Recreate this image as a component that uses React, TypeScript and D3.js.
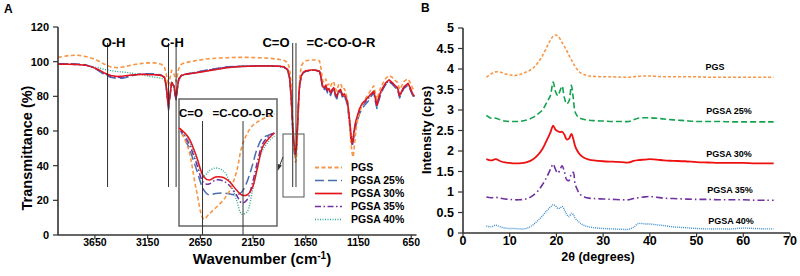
import React from 'react';
import * as d3 from 'd3';

// ---------- Panel A : FTIR ----------
const wavenumbers = [
  4000, 3900, 3820, 3740, 3680, 3620, 3560, 3500, 3440, 3380,
  3320, 3260, 3200, 3140, 3080, 3020, 2990, 2975, 2962, 2952,
  2940, 2922, 2900, 2888, 2880, 2870, 2855, 2830, 2790, 2700,
  2600, 2500, 2400, 2300, 2200, 2100, 2000, 1900, 1858, 1822,
  1803, 1788, 1773, 1758, 1748, 1738, 1728, 1718, 1708, 1693,
  1673, 1648, 1600, 1560, 1520, 1505, 1490, 1475, 1460, 1445,
  1430, 1415, 1400, 1385, 1370, 1355, 1340, 1320, 1300, 1285,
  1270, 1255, 1242, 1230, 1220, 1210, 1200, 1188, 1175, 1160,
  1140, 1115, 1090, 1060, 1030, 1005, 990, 975, 960, 940,
  915, 890, 860, 830, 800, 780, 760, 740, 720, 700,
  680, 660, 640, 620,
];

const ftirPGS = [
  102.5, 103.5, 103.8, 103, 102, 100.5, 98.5, 97, 96.5, 97,
  97.8, 98.5, 99, 99.3, 99.3, 98.5, 97, 93, 89, 86,
  90, 95, 93, 90, 88.5, 91.5, 96, 98.5, 99.5, 100.5,
  101.5, 102, 102.3, 102.5, 102.5, 102.3, 102, 101.3, 100.8, 99.5,
  96, 86, 65, 50, 42, 44, 58, 76, 90, 97.5,
  99.5, 100.5, 101, 101, 100.5, 96, 89, 88, 90, 86.5,
  87, 85.5, 88, 88.5, 84.5, 83, 86.5, 87.5, 84, 84.5,
  82, 78, 70, 60, 52, 47, 45, 52, 60, 66,
  71, 75, 78, 81, 84, 86, 82, 78, 81.5, 85,
  88, 90.5, 92, 91, 89, 88, 84, 86, 88.5, 89.5,
  90, 88, 85, 83,
];

const ftirPGSA25 = [
  98.8, 98.8, 98.6, 98.2, 97, 95, 92.5, 91, 90.3, 90.5,
  91.5, 92.5, 93, 93, 93, 92.3, 91, 86, 78, 72,
  79, 88, 85.5, 80, 78, 83.5, 90, 92, 92.8, 93.8,
  95, 96, 97, 97.3, 97.5, 97.7, 97.7, 97.4, 97, 95,
  90, 78, 58, 47, 45, 50, 62, 76, 86, 91.5,
  93.5, 94.5, 95, 95, 94.3, 90, 85, 83.5, 85, 82,
  83, 80.5, 83, 84, 80, 78.5, 82, 83, 79, 80,
  78, 75, 68, 61, 55, 51, 54, 60, 63, 66,
  70, 73, 75, 77, 80, 82, 77, 73, 77, 81,
  84.5, 87, 88.5, 87, 85, 84, 79, 82, 84.5, 85.5,
  86.5, 84, 81, 79,
];

const ftirPGSA30 = [
  98.5, 98.5, 98.3, 98, 97, 95.5, 93.5, 92, 91.5, 91.8,
  92.2, 92.5, 92.8, 92.5, 92.5, 92, 91, 87, 80, 74,
  80, 88, 86, 81, 79, 84, 90, 92, 92.8, 93.5,
  94.5, 95.5, 96.5, 97, 97.3, 97.5, 97.5, 97.3, 97, 95.5,
  91, 80, 62, 50, 47, 52, 64, 78, 87, 92,
  94, 94.8, 95.2, 95.2, 94.5, 91, 86, 85, 86.5, 83.5,
  84.5, 82, 84, 85, 81.5, 80, 83, 84, 80.5, 81.5,
  79.5, 77, 71, 64, 57, 53, 56, 62, 66, 69,
  73, 76, 77.5, 79.5, 81.5, 83, 79, 75, 79, 82.5,
  85.5, 88, 89.5, 88, 86, 85, 80.5, 83, 85.5, 86.5,
  87.5, 85, 82, 80,
];

const ftirPGSA35 = [
  98.6, 98.6, 98.4, 98, 97, 95.3, 93, 91.5, 91, 91.2,
  92, 92.5, 92.8, 92.8, 92.6, 92, 90.8, 86.5, 79, 73,
  79.5, 88, 85.8, 80.5, 78.5, 83.8, 90, 92, 92.8, 93.7,
  94.8, 95.8, 96.8, 97.2, 97.4, 97.6, 97.6, 97.3, 96.9, 95.2,
  90.5, 79, 60, 48.5, 46, 51, 63, 77, 86.5, 91.8,
  93.8, 94.6, 95.1, 95.1, 94.4, 90.5, 85.5, 84.5, 86, 83,
  84, 81.5, 83.5, 84.5, 81, 79.5, 82.5, 83.5, 80, 81,
  79, 76, 70, 63, 56, 52, 55, 61, 65, 68,
  72, 75, 76.5, 78.5, 81, 82.5, 78, 74, 78, 82,
  85, 87.5, 89, 87.5, 85.5, 84.5, 80, 82.5, 85, 86,
  87, 84.5, 81.5, 79.5,
];

const ftirPGSA40 = [
  98.5, 98.5, 98.3, 98, 97.3, 96.5, 95.5, 94.8, 94.3, 94,
  93.5, 93, 92.5, 91.5, 91, 90.5, 89.5, 85, 78, 73,
  79, 87, 85, 80.5, 78.5, 83, 89, 91.5, 92.5, 93.5,
  94.5, 95.5, 96.5, 97, 97.3, 97.5, 97.5, 97.2, 96.8, 95,
  90.5, 79, 60, 48, 46, 51, 63, 77, 86.5, 91.5,
  93.5, 94.5, 95, 95, 94.2, 90.5, 85.5, 84, 86, 83,
  84, 81.5, 83.5, 84.5, 80.5, 79, 82.5, 83.5, 79.5, 80.5,
  78.5, 76, 69, 60, 54, 52, 57, 61, 65, 68,
  72, 75, 77, 79, 81, 82.5, 78, 74, 78, 82,
  85, 87.5, 89, 87.5, 85.5, 84.5, 80, 82.5, 85, 86,
  87, 84.5, 81.5, 79.5,
];

const ftirTicksX = [3650, 3150, 2650, 2150, 1650, 1150, 650];
const ftirTicksY = [0, 20, 40, 60, 80, 100, 120];

const bandLabels = ['O-H', 'C-H', 'C=O', '=C-CO-O-R'];
const bandLines = [3530, 2952, 2880, 1774, 1743];

// inset (magnified carbonyl region, relative scale)
const insetWavenumbers = [1792, 1785, 1779, 1773, 1769, 1764, 1758, 1753, 1748, 1744, 1740, 1736, 1732, 1728, 1723, 1719];
const insetPGS = [77.2, 61.4, 29.9, 5.5, 9.4, 14.2, 20.5, 28.3, 42.5, 62.2, 72.4, 78.7, 81.9, 84.3, 86.6, 88.2];
const insetPGSA25 = [77.2, 63, 45.7, 28.3, 24.4, 25.6, 26, 25.2, 24.4, 26.8, 34.6, 47.2, 61.4, 69.3, 71.7, 73.2];
const insetPGSA30 = [77.2, 70.1, 55.9, 38.6, 36.2, 38.6, 38.2, 34.6, 28.3, 24.4, 24.4, 29.9, 45.7, 62.2, 69.3, 73.2];
const insetPGSA35 = [77.2, 66.1, 50.4, 33.9, 33.1, 36.2, 35.4, 31.5, 24.4, 18.1, 20.5, 33.1, 50.4, 64.6, 70.9, 73.2];
const insetPGSA40 = [77.2, 68.5, 52.8, 39.4, 43.3, 45.7, 43.3, 34.6, 20.5, 9.4, 11, 26.8, 45.7, 59.8, 66.9, 70.9];
const insetLines = [1774, 1743];

// ---------- Panel B : XRD ----------
const twoTheta = [
  5, 6, 7, 8, 9, 10, 11, 12, 13, 14,
  15, 16, 17, 18, 18.7, 19.3, 19.8, 20.3, 20.8, 21.2,
  21.7, 22.2, 22.7, 23.2, 23.6, 24, 24.5, 25, 26, 27,
  28, 30, 32, 34, 35.5, 36.5, 37.5, 39, 40, 41.5,
  43, 45, 47.5, 50, 52.5, 55, 57.5, 60, 62.5, 65,
  66.5,
];

const xrdPGS = [
  3.8, 3.88, 3.93, 3.92, 3.88, 3.86, 3.84, 3.86, 3.9, 3.95,
  4.02, 4.15, 4.32, 4.55, 4.7, 4.8, 4.83, 4.8, 4.73, 4.65,
  4.55, 4.45, 4.33, 4.22, 4.14, 4.06, 3.98, 3.92, 3.86, 3.83,
  3.82, 3.81, 3.81, 3.8, 3.8, 3.81, 3.82, 3.83, 3.83, 3.82,
  3.81, 3.81, 3.81, 3.81, 3.8, 3.8, 3.8, 3.8, 3.8, 3.8,
  3.8,
];
const xrdPGSA25 = [
  2.87, 2.8, 2.8, 2.76, 2.73, 2.72, 2.72, 2.72, 2.74, 2.77,
  2.82, 2.9, 3.0, 3.2, 3.35, 3.68, 3.45, 3.35, 3.48, 3.58,
  3.3, 3.15, 3.22, 3.6, 3.3, 2.95, 2.85, 2.8, 2.77, 2.75,
  2.74, 2.73, 2.72, 2.72, 2.72, 2.76, 2.8, 2.81, 2.81, 2.8,
  2.78, 2.76, 2.74, 2.72, 2.72, 2.72, 2.71, 2.71, 2.71, 2.71,
  2.71,
];
const xrdPGSA30 = [
  1.8, 1.77, 1.8, 1.75, 1.72, 1.71, 1.7, 1.7, 1.71, 1.74,
  1.8, 1.9, 2.05, 2.28, 2.45, 2.62, 2.52, 2.48, 2.46, 2.47,
  2.4, 2.28, 2.3, 2.42, 2.3, 2.12, 2.0, 1.92, 1.83, 1.79,
  1.77, 1.75, 1.74, 1.73, 1.72, 1.76, 1.78, 1.79, 1.8, 1.79,
  1.77, 1.76, 1.75, 1.73, 1.72, 1.71, 1.71, 1.71, 1.7, 1.7,
  1.7,
];
const xrdPGSA35 = [
  0.88, 0.86, 0.87, 0.85, 0.83, 0.82, 0.81, 0.81, 0.82, 0.85,
  0.92, 1.02, 1.18, 1.38, 1.55, 1.68, 1.55, 1.46, 1.55, 1.64,
  1.5, 1.3, 1.28, 1.45, 1.48, 1.2, 1.05, 0.95, 0.88, 0.85,
  0.84, 0.83, 0.82, 0.81, 0.81, 0.84, 0.86, 0.88, 0.89, 0.87,
  0.85, 0.84, 0.83, 0.82, 0.82, 0.81, 0.81, 0.81, 0.8, 0.8,
  0.8,
];
const xrdPGSA40 = [
  0.17, 0.15, 0.19, 0.15, 0.12, 0.11, 0.11, 0.1, 0.1, 0.13,
  0.2, 0.3, 0.42, 0.55, 0.63, 0.69, 0.66, 0.6, 0.61, 0.65,
  0.57, 0.45, 0.4, 0.48, 0.45, 0.36, 0.3, 0.25, 0.18, 0.15,
  0.13, 0.11, 0.1, 0.09, 0.09, 0.14, 0.23, 0.22, 0.22, 0.2,
  0.18, 0.15, 0.13, 0.11, 0.1, 0.1, 0.1, 0.12, 0.11, 0.1,
  0.1,
];
const xrdTicksX = [0, 10, 20, 30, 40, 50, 60, 70];
const xrdTicksY = [0, 0.5, 1, 1.5, 2, 2.5, 3, 3.5, 4, 4.5, 5];

const seriesNames = ['PGS', 'PGSA 25%', 'PGSA 30%', 'PGSA 35%', 'PGSA 40%'];

const FONT = 'Liberation Sans, Arial, Helvetica, sans-serif';

export default function App() {
  const xA = d3.scaleLinear().domain([4000, 600]).range([58, 416.5]);
  const yA = d3.scaleLinear().domain([0, 120]).range([235, 27]);
  const xIn = d3.scaleLinear().domain([1792, 1717]).range([179, 277]);
  const yIn = d3.scaleLinear().domain([0, 100]).range([226, 99]);
  const xB = d3.scaleLinear().domain([0, 70]).range([463, 790]);
  const yB = d3.scaleLinear().domain([0, 5]).range([233, 28]);

  const ftirSeries = [ftirPGS, ftirPGSA25, ftirPGSA30, ftirPGSA35, ftirPGSA40];
  const insetSeries = [insetPGS, insetPGSA25, insetPGSA30, insetPGSA35, insetPGSA40];
  const xrdSeries = [xrdPGS, xrdPGSA25, xrdPGSA30, xrdPGSA35, xrdPGSA40];

  const ftirStyle = [
    { color: '#F79646', dash: '4,2.5', w: 1.6 },
    { color: '#4A6CB0', dash: '9,4', w: 1.5 },
    { color: '#E3141B', dash: undefined, w: 1.5 },
    { color: '#7030A0', dash: '6,2.5,1.5,2.5', w: 1.5 },
    { color: '#2FA98C', dash: '1,1.5', w: 1.4 },
  ];
  const drawOrder = [4, 1, 3, 0, 2];

  const xrdStyle = [
    { color: '#F79646', dash: '3,2', w: 1.6 },
    { color: '#14A24E', dash: '6,3', w: 1.6 },
    { color: '#EE1111', dash: undefined, w: 1.8 },
    { color: '#7030A0', dash: '7,3,1.5,3', w: 1.6 },
    { color: '#3C8DCB', dash: '1,1', w: 1.4 },
  ];

  const lineA = (vals: number[]) =>
    d3.line<number>().x((_, i) => xA(wavenumbers[i])).y((d) => yA(d))(vals) || '';
  const lineIn = (vals: number[]) =>
    d3.line<number>().curve(d3.curveCatmullRom.alpha(0.5)).x((_, i) => xIn(insetWavenumbers[i])).y((d) => yIn(d))(vals) || '';
  const lineB = (vals: number[]) =>
    d3.line<number>().curve(d3.curveCatmullRom.alpha(0.5)).x((_, i) => xB(twoTheta[i])).y((d) => yB(d))(vals) || '';

  const axisColor = '#333';

  // band label x centers (from the band lines)
  const ohX = xA(bandLines[0]);
  const chX = (xA(bandLines[1]) + xA(bandLines[2])) / 2;

  const xrdLabelPos = [
    { x: 715, y: 70 },
    { x: 729, y: 113.5 },
    { x: 729, y: 156.5 },
    { x: 730, y: 192.5 },
    { x: 731, y: 223.5 },
  ];

  return (
    <svg width={800} height={276} style={{ position: 'absolute', left: 0, top: 0, background: '#fff' }} fontFamily={FONT}>
      <rect x={0} y={0} width={800} height={276} fill="#fff" />

      {/* ===== Panel A ===== */}
      <text x={4} y={13} fontSize={12} fontWeight="bold">A</text>

      {drawOrder.map((k) => (
        <path key={'a' + k} d={lineA(ftirSeries[k])} fill="none" stroke={ftirStyle[k].color}
          strokeWidth={ftirStyle[k].w} strokeDasharray={ftirStyle[k].dash} strokeLinejoin="round" />
      ))}

      {/* band lines */}
      {bandLines.map((w, i) => (
        <line key={'bl' + i} x1={xA(w)} x2={xA(w)} y1={43} y2={187} stroke="#333" strokeWidth={1} />
      ))}
      <text x={ohX + 6} y={46.5} fontSize={13} fontWeight="bold" textAnchor="middle">{bandLabels[0]}</text>
      <text x={chX} y={46.5} fontSize={13} fontWeight="bold" textAnchor="middle">{bandLabels[1]}</text>
      <text x={276} y={46.5} fontSize={13} fontWeight="bold" textAnchor="middle">{bandLabels[2]}</text>
      <text x={341} y={46.5} fontSize={13} fontWeight="bold" textAnchor="middle">{bandLabels[3]}</text>

      {/* small box around carbonyl */}
      <rect x={283} y={134} width={21} height={63} fill="none" stroke="#555" strokeWidth={1} />
      {/* arrow */}
      <line x1={283} y1={157} x2={279.5} y2={166} stroke="#333" strokeWidth={1} />
      <path d="M277.5,171 L277.6,163.8 L281.8,165.5 Z" fill="#333" />

      {/* inset */}
      <rect x={179} y={99} width={98} height={127} fill="#fff" stroke="#666" strokeWidth={1.5} />
      {drawOrder.map((k) => (
        <path key={'in' + k} d={lineIn(insetSeries[k])} fill="none" stroke={ftirStyle[k].color}
          strokeWidth={ftirStyle[k].w} strokeDasharray={ftirStyle[k].dash} strokeLinejoin="round" />
      ))}
      {insetLines.map((w, i) => (
        <line key={'il' + i} x1={xIn(w)} x2={xIn(w)} y1={121} y2={235} stroke="#333" strokeWidth={1} />
      ))}
      <text x={191} y={116.5} fontSize={11.5} fontWeight="bold" textAnchor="middle">{bandLabels[2]}</text>
      <text x={243} y={116.5} fontSize={11.5} fontWeight="bold" textAnchor="middle">{bandLabels[3]}</text>

      {/* axes A */}
      <line x1={58} x2={58} y1={27} y2={235} stroke={axisColor} strokeWidth={1.6} />
      <line x1={58} x2={416.5} y1={235} y2={235} stroke={axisColor} strokeWidth={1.6} />
      {ftirTicksY.map((t) => (
        <g key={'ay' + t}>
          <line x1={53} x2={58} y1={yA(t)} y2={yA(t)} stroke={axisColor} strokeWidth={1.2} />
          <text x={49} y={yA(t)} dy="0.35em" fontSize={11} fontWeight="bold" textAnchor="end">{t}</text>
        </g>
      ))}
      {ftirTicksX.map((t) => (
        <g key={'ax' + t}>
          <line x1={xA(t)} x2={xA(t)} y1={235} y2={239} stroke={axisColor} strokeWidth={1.2} />
          <text x={xA(t)} y={245.5} fontSize={10.5} fontWeight="bold" textAnchor="middle">{t}</text>
        </g>
      ))}
      <text x={262} y={264} fontSize={15} fontWeight="bold" textAnchor="middle">
        Wavenumber (cm<tspan dy={-5} fontSize={10}>-1</tspan><tspan dy={5}>)</tspan>
      </text>
      <text transform="translate(32,148) rotate(-90)" fontSize={14.5} fontWeight="bold" textAnchor="middle">Transmittance (%)</text>

      {/* legend A */}
      {seriesNames.map((n, i) => (
        <g key={'lg' + i}>
          <line x1={315} x2={342} y1={167.5 + i * 13} y2={167.5 + i * 13} stroke={ftirStyle[i].color}
            strokeWidth={ftirStyle[i].w + 0.2} strokeDasharray={ftirStyle[i].dash} />
          <text x={351} y={167.5 + i * 13} dy="0.35em" fontSize={10.5} fontWeight="bold">{n}</text>
        </g>
      ))}

      {/* ===== Panel B ===== */}
      <text x={421} y={12} fontSize={12} fontWeight="bold">B</text>

      {xrdSeries.map((s, k) => (
        <path key={'b' + k} d={lineB(s)} fill="none" stroke={xrdStyle[k].color}
          strokeWidth={xrdStyle[k].w} strokeDasharray={xrdStyle[k].dash} strokeLinejoin="round" />
      ))}
      {seriesNames.map((n, i) => (
        <text key={'bl' + i} x={xrdLabelPos[i].x} y={xrdLabelPos[i].y} fontSize={9} fontWeight="bold" textAnchor="middle">{n}</text>
      ))}

      <line x1={463} x2={463} y1={28} y2={233} stroke={axisColor} strokeWidth={1.6} />
      <line x1={463} x2={790} y1={233} y2={233} stroke={axisColor} strokeWidth={1.6} />
      {xrdTicksY.map((t) => (
        <g key={'by' + t}>
          <line x1={458} x2={463} y1={yB(t)} y2={yB(t)} stroke={axisColor} strokeWidth={1.2} />
          <text x={454} y={yB(t)} dy="0.35em" fontSize={12.5} fontWeight="bold" textAnchor="end">{t}</text>
        </g>
      ))}
      {xrdTicksX.map((t) => (
        <g key={'bx' + t}>
          <line x1={xB(t)} x2={xB(t)} y1={233} y2={237} stroke={axisColor} strokeWidth={1.2} />
          <text x={xB(t)} y={245} fontSize={12.5} fontWeight="bold" textAnchor="middle">{t}</text>
        </g>
      ))}
      <text x={598} y={261} fontSize={12.5} fontWeight="bold" textAnchor="middle">2θ (degrees)</text>
      <text transform="translate(431,130) rotate(-90)" fontSize={13} fontWeight="bold" textAnchor="middle">Intensity (cps)</text>
    </svg>
  );
}
